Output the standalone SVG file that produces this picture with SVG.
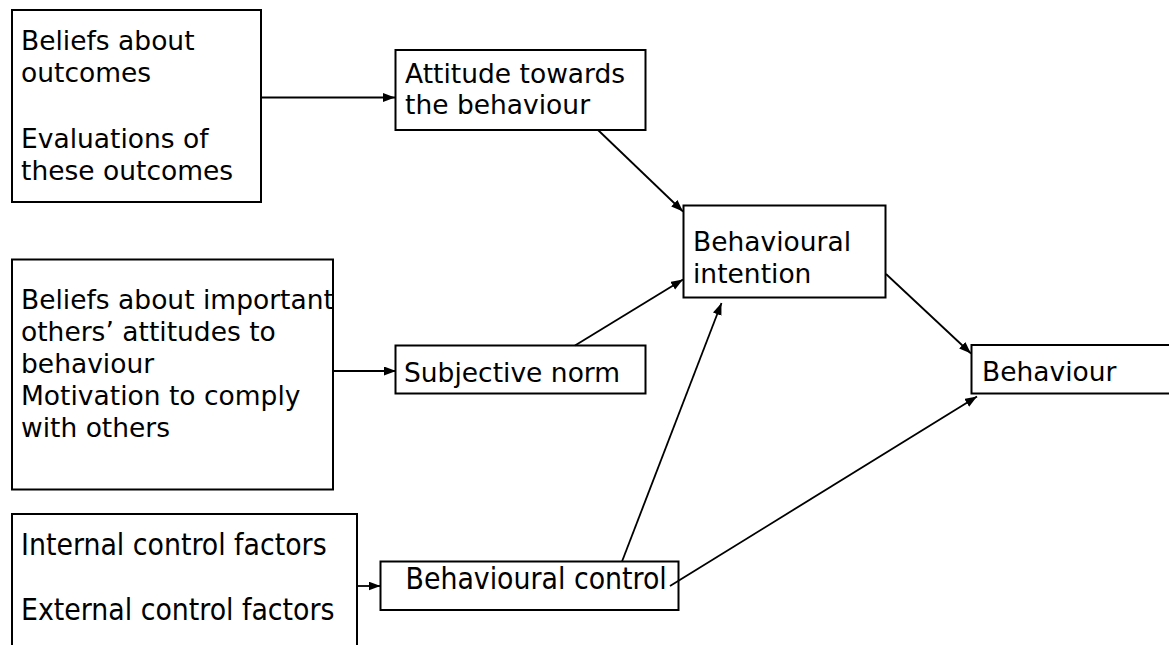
<svg xmlns="http://www.w3.org/2000/svg" width="1169" height="645" viewBox="0 0 1169 645">
<style>
.box{fill:#fff;stroke:#000;stroke-width:2}
.t{font-family:"DejaVu Sans",Verdana,sans-serif;font-size:26.5px;fill:#000}
.c{font-family:"DejaVu Sans Condensed","DejaVu Sans",sans-serif;font-size:29.8px;fill:#000}
.ln{stroke:#000;stroke-width:1.8;fill:none;marker-end:url(#ah)}
</style>
<defs>
<marker id="ah" markerUnits="userSpaceOnUse" markerWidth="13" markerHeight="10" refX="12" refY="4.5" orient="auto">
<path d="M0,0 L12,4.5 L0,9 z" fill="#000"/>
</marker>
</defs>
<rect width="1169" height="645" fill="#fff"/>
<g id="beliefs-outcomes">
<rect class="box" x="12" y="10" width="249" height="192"/>
<text class="t" x="21"><tspan x="21" y="50">Beliefs about</tspan><tspan x="21" y="82">outcomes</tspan><tspan x="21" y="148">Evaluations of</tspan><tspan x="21" y="180">these outcomes</tspan></text>
</g>
<g id="attitude">
<rect class="box" x="395.5" y="50" width="250" height="80"/>
<text class="t"><tspan x="405" y="83">Attitude towards</tspan><tspan x="405" y="114">the behaviour</tspan></text>
</g>
<g id="intention">
<rect class="box" x="683.5" y="205.5" width="202" height="92"/>
<text class="t"><tspan x="693" y="251">Behavioural</tspan><tspan x="693" y="283">intention</tspan></text>
</g>
<g id="beliefs-others">
<rect class="box" x="12" y="259.5" width="321" height="230"/>
<text class="t"><tspan x="21" y="309">Beliefs about important</tspan><tspan x="21" y="341">others’ attitudes to</tspan><tspan x="21" y="373">behaviour</tspan><tspan x="21" y="405">Motivation to comply</tspan><tspan x="21" y="437">with others</tspan></text>
</g>
<g id="subjective-norm">
<rect class="box" x="395.5" y="345.5" width="250" height="48"/>
<text class="t" x="404" y="382">Subjective norm</text>
</g>
<g id="control-factors">
<rect class="box" x="12" y="514" width="345" height="140"/>
<text class="c"><tspan x="21" y="555">Internal control factors</tspan><tspan x="21" y="620">External control factors</tspan></text>
</g>
<g id="behavioural-control">
<rect class="box" x="380.5" y="561.5" width="298" height="48.5"/>
<text class="c" x="405.5" y="589">Behavioural control</text>
</g>
<g id="behaviour">
<rect class="box" x="971.5" y="345" width="210" height="48.5"/>
<text class="t" x="982" y="381">Behaviour</text>
</g>
<g id="connectors">
<line class="ln" x1="261" y1="97.5" x2="395" y2="97.5"/>
<line class="ln" x1="598" y1="130" x2="683" y2="211.5"/>
<line class="ln" x1="575" y1="345.5" x2="683" y2="279.5"/>
<line class="ln" x1="622" y1="561.5" x2="721.5" y2="303"/>
<line class="ln" x1="886" y1="274" x2="971" y2="353.5"/>
<line class="ln" x1="670" y1="586" x2="977" y2="396.5"/>
<line class="ln" x1="333" y1="371" x2="396" y2="371"/>
<line class="ln" x1="357" y1="586" x2="380.5" y2="586"/>
</g>
</svg>
